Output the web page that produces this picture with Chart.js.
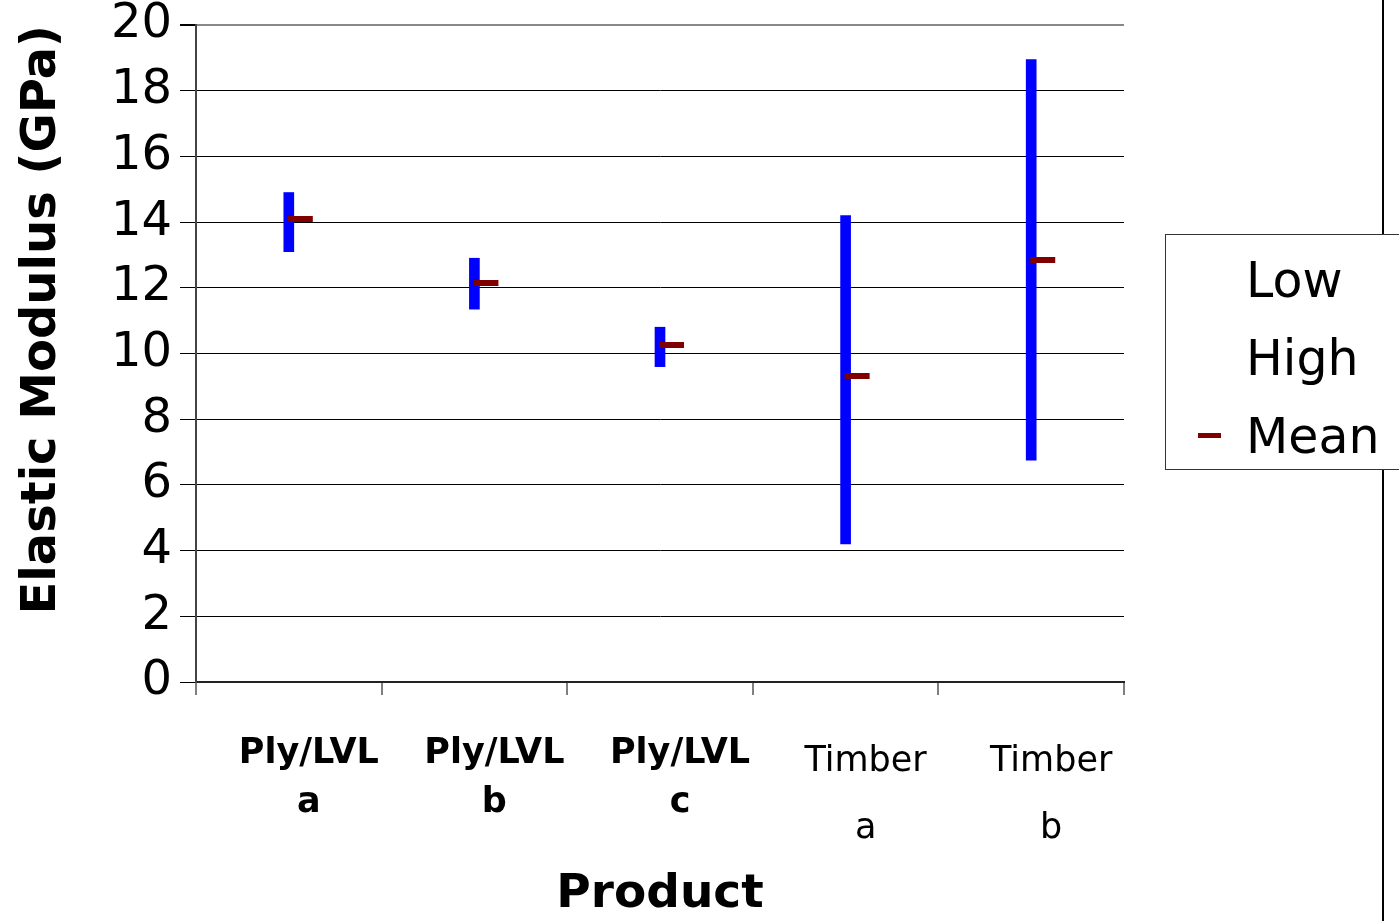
<!DOCTYPE html>
<html>
<head>
<meta charset="utf-8">
<script src="https://cdn.jsdelivr.net/npm/chart.js@4"></script>
<style>
  html, body { margin: 0; padding: 0; background: #fff; }
  #wrap { width: 1399px; height: 921px; }
</style>
</head>
<body>
<div id="wrap"><canvas id="chart" width="1399" height="921"></canvas></div>
<script>
// data
const products = [['Ply/LVL', 'a'], ['Ply/LVL', 'b'], ['Ply/LVL', 'c'], ['Timber', 'a'], ['Timber', 'b']]
const low = [13.1, 11.35, 9.6, 4.2, 6.75]
const high = [14.9, 12.9, 10.8, 14.2, 18.95]
const mean = [14.1, 12.15, 10.25, 9.3, 12.85]
const seriesNames = ['Low', 'High', 'Mean']
const yTicks = [0, 2, 4, 6, 8, 10, 12, 14, 16, 18, 20]

const FONT = "'DejaVu Sans', sans-serif"

// mean marker: short dash that starts at the bar and runs to the right
function meanMarker() {
  const c = document.createElement('canvas')
  c.width = 50
  c.height = 6
  const g = c.getContext('2d')
  g.fillStyle = '#800000'
  g.fillRect(24, 0, 25, 6)
  return c
}

// legend box and the outer frame line on the right
const extras = {
  id: 'extras',
  afterDraw(chart) {
    const ctx = chart.ctx
    ctx.save()
    ctx.strokeStyle = '#000'
    ctx.lineWidth = 2
    ctx.beginPath()
    ctx.moveTo(1383, 0)
    ctx.lineTo(1383, 921)
    ctx.stroke()

    ctx.fillStyle = '#fff'
    ctx.fillRect(1165, 234, 260, 235)
    ctx.strokeStyle = '#333'
    ctx.lineWidth = 1
    ctx.strokeRect(1165.5, 234.5, 260, 235)

    ctx.font = '49px ' + FONT
    ctx.textBaseline = 'middle'
    const ys = [284, 362, 440]
    seriesNames.forEach((name, i) => {
      ctx.fillStyle = '#000'
      ctx.fillText(name, 1246, ys[i])
      if (name === 'Mean') {
        ctx.fillStyle = '#800000'
        ctx.fillRect(1198, ys[i] - 7, 23, 5)
      }
    })
    ctx.restore()
  },
}

const ctx = document.getElementById('chart').getContext('2d')
new Chart(ctx, {
  data: {
    labels: products,
    datasets: [
      {
        type: 'bar',
        label: 'Low-High',
        data: low.map((v, i) => [v, high[i]]),
        backgroundColor: '#0000ff',
        borderWidth: 0,
        barThickness: 10,
        order: 2,
      },
      {
        type: 'line',
        label: 'Mean',
        data: mean,
        showLine: false,
        pointStyle: meanMarker(),
        borderColor: '#800000',
        backgroundColor: '#800000',
        order: 1,
      },
    ],
  },
  options: {
    responsive: false,
    animation: false,
    layout: { padding: { top: 25, right: 275, bottom: 0, left: 0 } },
    plugins: {
      legend: { display: false },
      tooltip: { enabled: false },
    },
    scales: {
      x: {
        offset: true,
        afterFit: function (scale) {
          scale.height = 239
          scale.paddingLeft = 0
          scale.paddingRight = 0
        },
        border: { color: '#222', width: 2 },
        grid: {
          offset: true,
          drawOnChartArea: true,
          color: c => (c.index === 5 ? '#888' : 'rgba(0,0,0,0)'),
          lineWidth: 2,
          tickColor: '#000',
          tickWidth: 1,
          tickLength: 13,
        },
        ticks: {
          color: '#000',
          padding: 34,
          labelOffset: 20,
          maxRotation: 0,
          autoSkip: false,
          font: c =>
            c.index < 3
              ? { family: FONT, size: 35, weight: 'bold', lineHeight: 1.4 }
              : { family: FONT, size: 35, weight: 'normal', lineHeight: 1.9 },
        },
        title: {
          display: true,
          text: 'Product',
          color: '#000',
          padding: 0,
          font: { family: FONT, size: 47, weight: 'bold', lineHeight: 1.1 },
        },
      },
      y: {
        min: 0,
        max: 20,
        afterFit: function (scale) {
          scale.width = 196
          scale.paddingTop = 0
          scale.paddingBottom = 0
        },
        afterBuildTicks: function (scale) {
          scale.ticks = yTicks.map(v => ({ value: v }))
        },
        border: { color: '#444', width: 2 },
        grid: {
          color: c => (c.tick && c.tick.value === 20 ? '#888' : '#000'),
          lineWidth: c => (c.tick && c.tick.value === 20 ? 2 : 1),
          tickColor: '#000',
          tickLength: 16,
        },
        ticks: {
          color: '#000',
          padding: 8,
          font: { family: FONT, size: 48, lineHeight: 1.0 },
        },
        title: {
          display: true,
          text: 'Elastic Modulus (GPa)',
          align: 'end',
          color: '#000',
          padding: { top: 14, bottom: 0 },
          font: { family: FONT, size: 48, weight: 'bold', lineHeight: 1.2 },
        },
      },
    },
  },
  plugins: [extras],
})
</script>
</body>
</html>
